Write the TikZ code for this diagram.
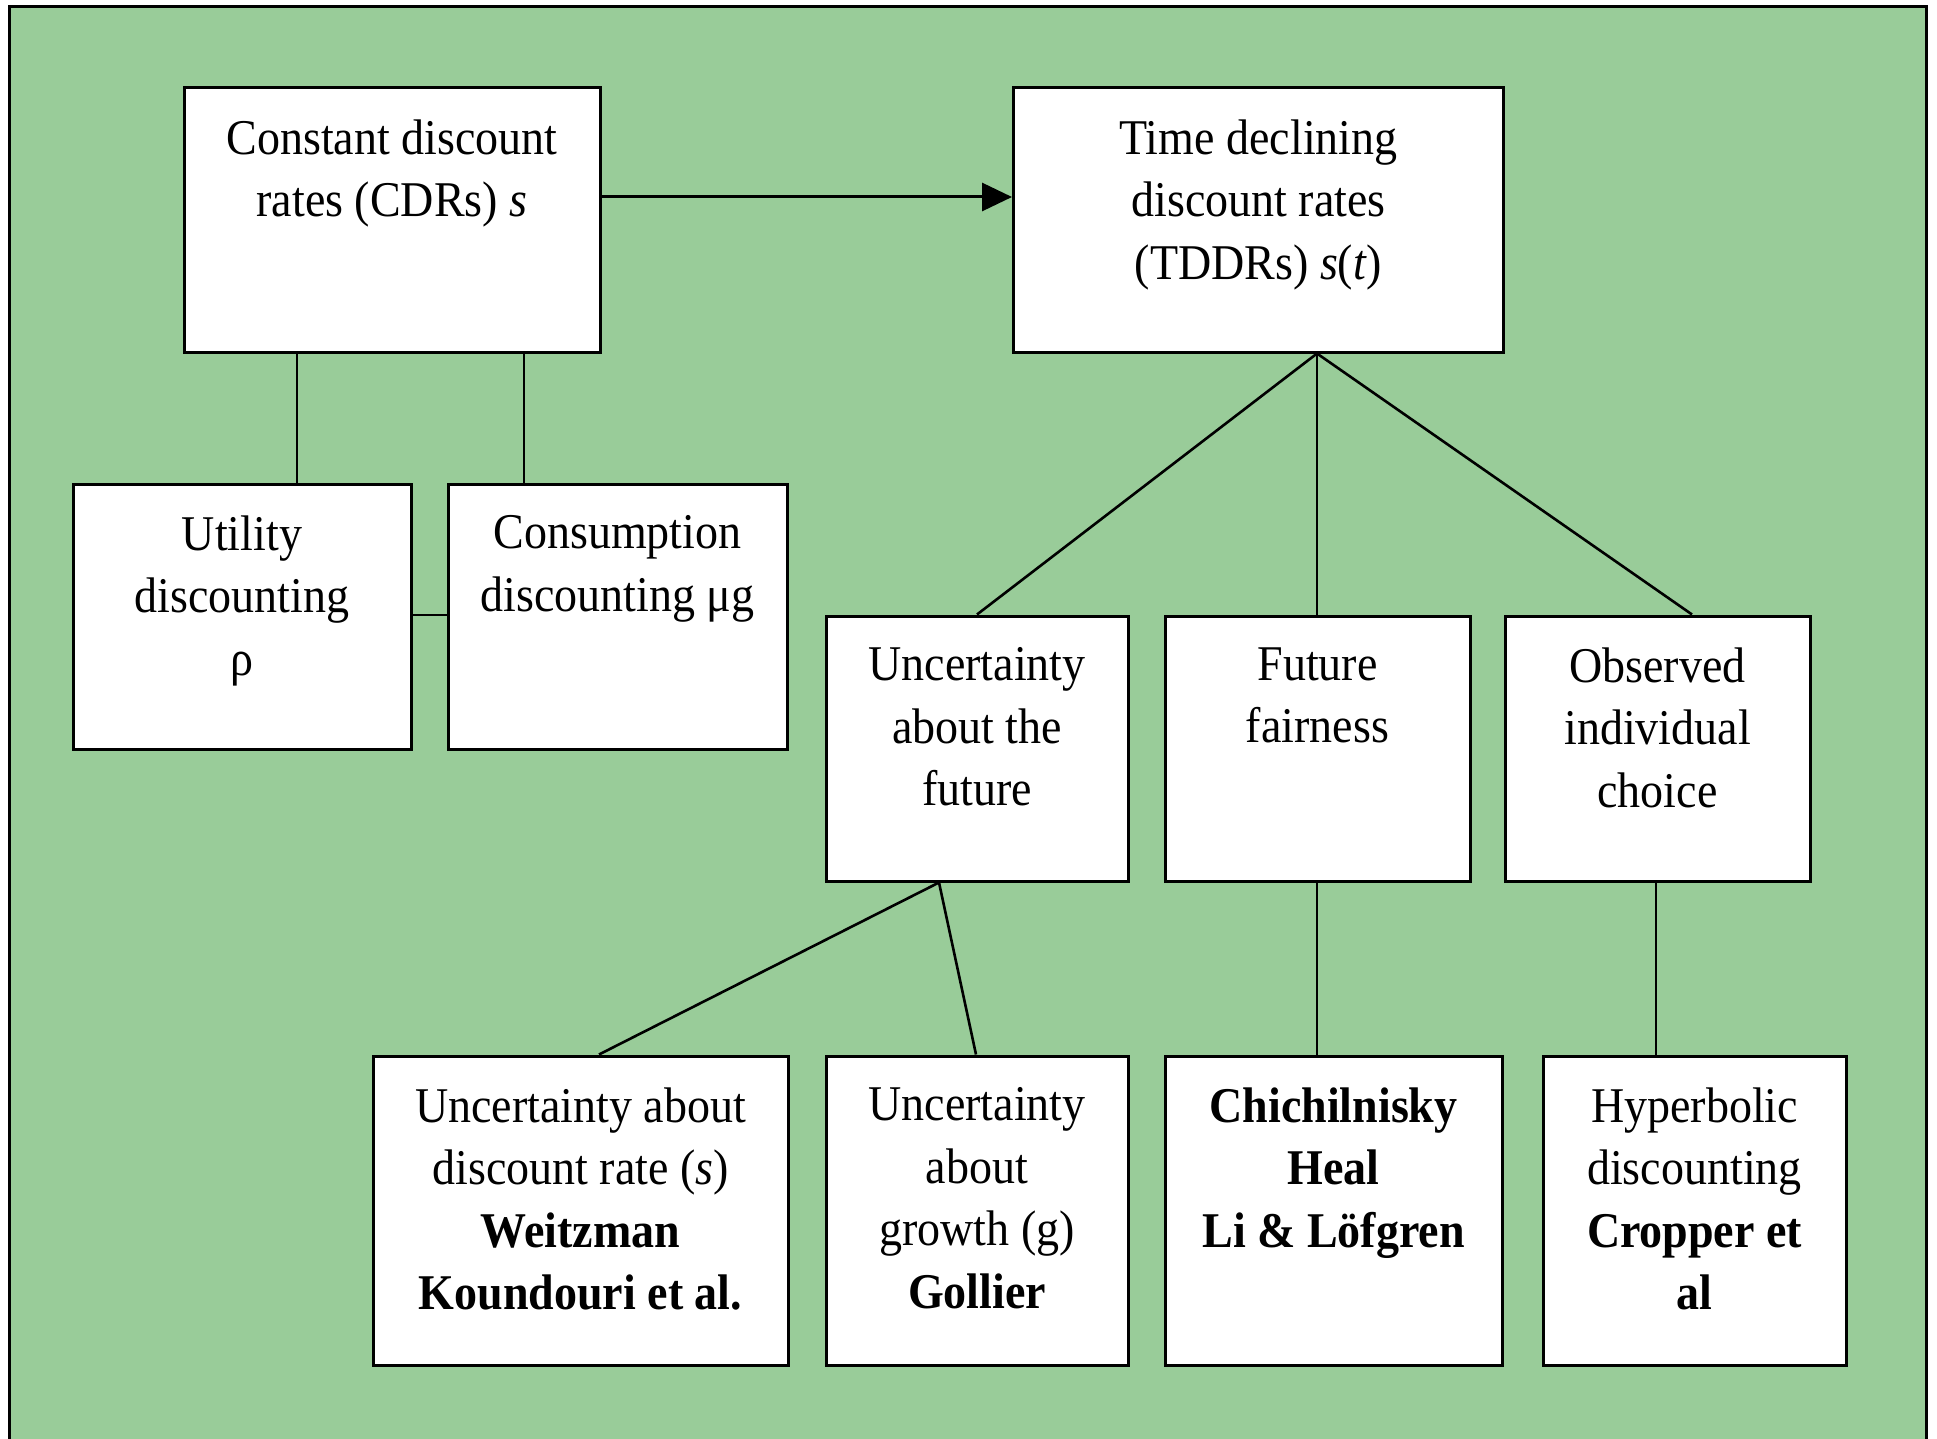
\documentclass[tikz,border=0pt]{standalone}
\usepackage{fontspec}
\setmainfont{Liberation Serif}[FakeStretch=0.92]
\usetikzlibrary{arrows.meta}
\definecolor{bggreen}{RGB}{153,204,153}
\newcommand{\boxfont}{\fontsize{50}{62.5}\selectfont}
\tikzset{
  boxnode/.style={draw=black, fill=white, line width=3pt, inner sep=0pt, rectangle},
  boxtext/.style={align=center, inner sep=0pt, anchor=north, font=\boxfont},
  link/.style={draw=black, line width=2.6pt},
  arrowlink/.style={draw=black, line width=3pt, -{Triangle[length=30pt,width=28pt]}}
}
\begin{document}
\begin{tikzpicture}[x=1pt,y=-1pt]
\useasboundingbox (0,0) rectangle (1937,1439);
\begin{scope}
\clip (0,0) rectangle (1937,1439);
\fill[white] (0,0) rectangle (1937,1439);
\draw[line width=3pt, fill=bggreen] (9,7) rectangle (1926,1460);
\end{scope}

% top row
\node[boxnode, minimum width=416pt, minimum height=264pt] (cdr) at (392,220) {};
\node[boxnode, minimum width=490pt, minimum height=264pt] (tddr) at (1258.5,220) {};
% second row left
\node[boxnode, minimum width=338pt, minimum height=265pt] (util) at (242,616.5) {};
\node[boxnode, minimum width=339pt, minimum height=265pt] (cons) at (617.5,616.5) {};
% middle row right
\node[boxnode, minimum width=302pt, minimum height=265pt] (unc) at (977,748.5) {};
\node[boxnode, minimum width=305pt, minimum height=265pt] (fair) at (1317.5,748.5) {};
\node[boxnode, minimum width=305pt, minimum height=265pt] (obs) at (1657.5,748.5) {};
% bottom row
\node[boxnode, minimum width=415pt, minimum height=309pt] (uds) at (580.5,1210.5) {};
\node[boxnode, minimum width=302pt, minimum height=309pt] (ugr) at (977,1210.5) {};
\node[boxnode, minimum width=337pt, minimum height=309pt] (chi) at (1333.5,1210.5) {};
\node[boxnode, minimum width=303pt, minimum height=309pt] (hyp) at (1694.5,1210.5) {};

% texts
\node[boxtext] (cdr-t) at ([yshift=-33pt]cdr.north) {Constant discount\\rates (CDRs) \textit{s}};
\node[boxtext] (tddr-t) at ([yshift=-33pt]tddr.north) {Time declining\\discount rates\\(TDDRs) \textit{s}(\textit{t})};
\node[boxtext] (util-t) at ([yshift=-33pt]util.north) {Utility\\discounting\\ρ};
\node[boxtext] (cons-t) at ([yshift=-33pt]cons.north) {Consumption\\discounting μg};
\node[boxtext] (unc-t) at ([yshift=-33pt]unc.north) {Uncertainty\\about the\\future};
\node[boxtext] (fair-t) at ([yshift=-33pt]fair.north) {Future\\fairness};
\node[boxtext] (obs-t) at ([yshift=-33pt]obs.north) {Observed\\individual\\choice};
\node[boxtext] (uds-t) at ([yshift=-33pt]uds.north) {Uncertainty about\\discount rate (\textit{s})\\\textbf{Weitzman}\\\textbf{Koundouri et al.}};
\node[boxtext] (ugr-t) at ([yshift=-33pt]ugr.north) {Uncertainty\\about\\growth (g)\\\textbf{Gollier}};
\node[boxtext] (chi-t) at ([yshift=-33pt]chi.north) {\textbf{Chichilnisky}\\\textbf{Heal}\\\textbf{Li \& Löfgren}};
\node[boxtext] (hyp-t) at ([yshift=-33pt]hyp.north) {Hyperbolic\\discounting\\\textbf{Cropper et}\\\textbf{al}};

% connectors
\draw[arrowlink] (cdr.east |- 0,197) -- (tddr.west |- 0,197);
\draw[link] (cdr.south -| 297,0) -- (util.north -| 297,0);
\draw[link] (cdr.south -| 524,0) -- (cons.north -| 524,0);
\draw[link] (util.east |- 0,615) -- (cons.west |- 0,615);

\coordinate (tj) at (tddr.south -| 1317,0);
\draw[link] (tj) -- (unc.north -| 977,0);
\draw[link] (tj) -- (fair.north -| 1317,0);
\draw[link] (tj) -- (obs.north -| 1692,0);

\coordinate (uj) at (unc.south -| 939,0);
\draw[link] (uj) -- (uds.north -| 599,0);
\draw[link] (uj) -- (ugr.north -| 976,0);
\draw[link] (fair.south -| 1317,0) -- (chi.north -| 1317,0);
\draw[link] (obs.south -| 1656,0) -- (hyp.north -| 1656,0);
\end{tikzpicture}
\end{document}
